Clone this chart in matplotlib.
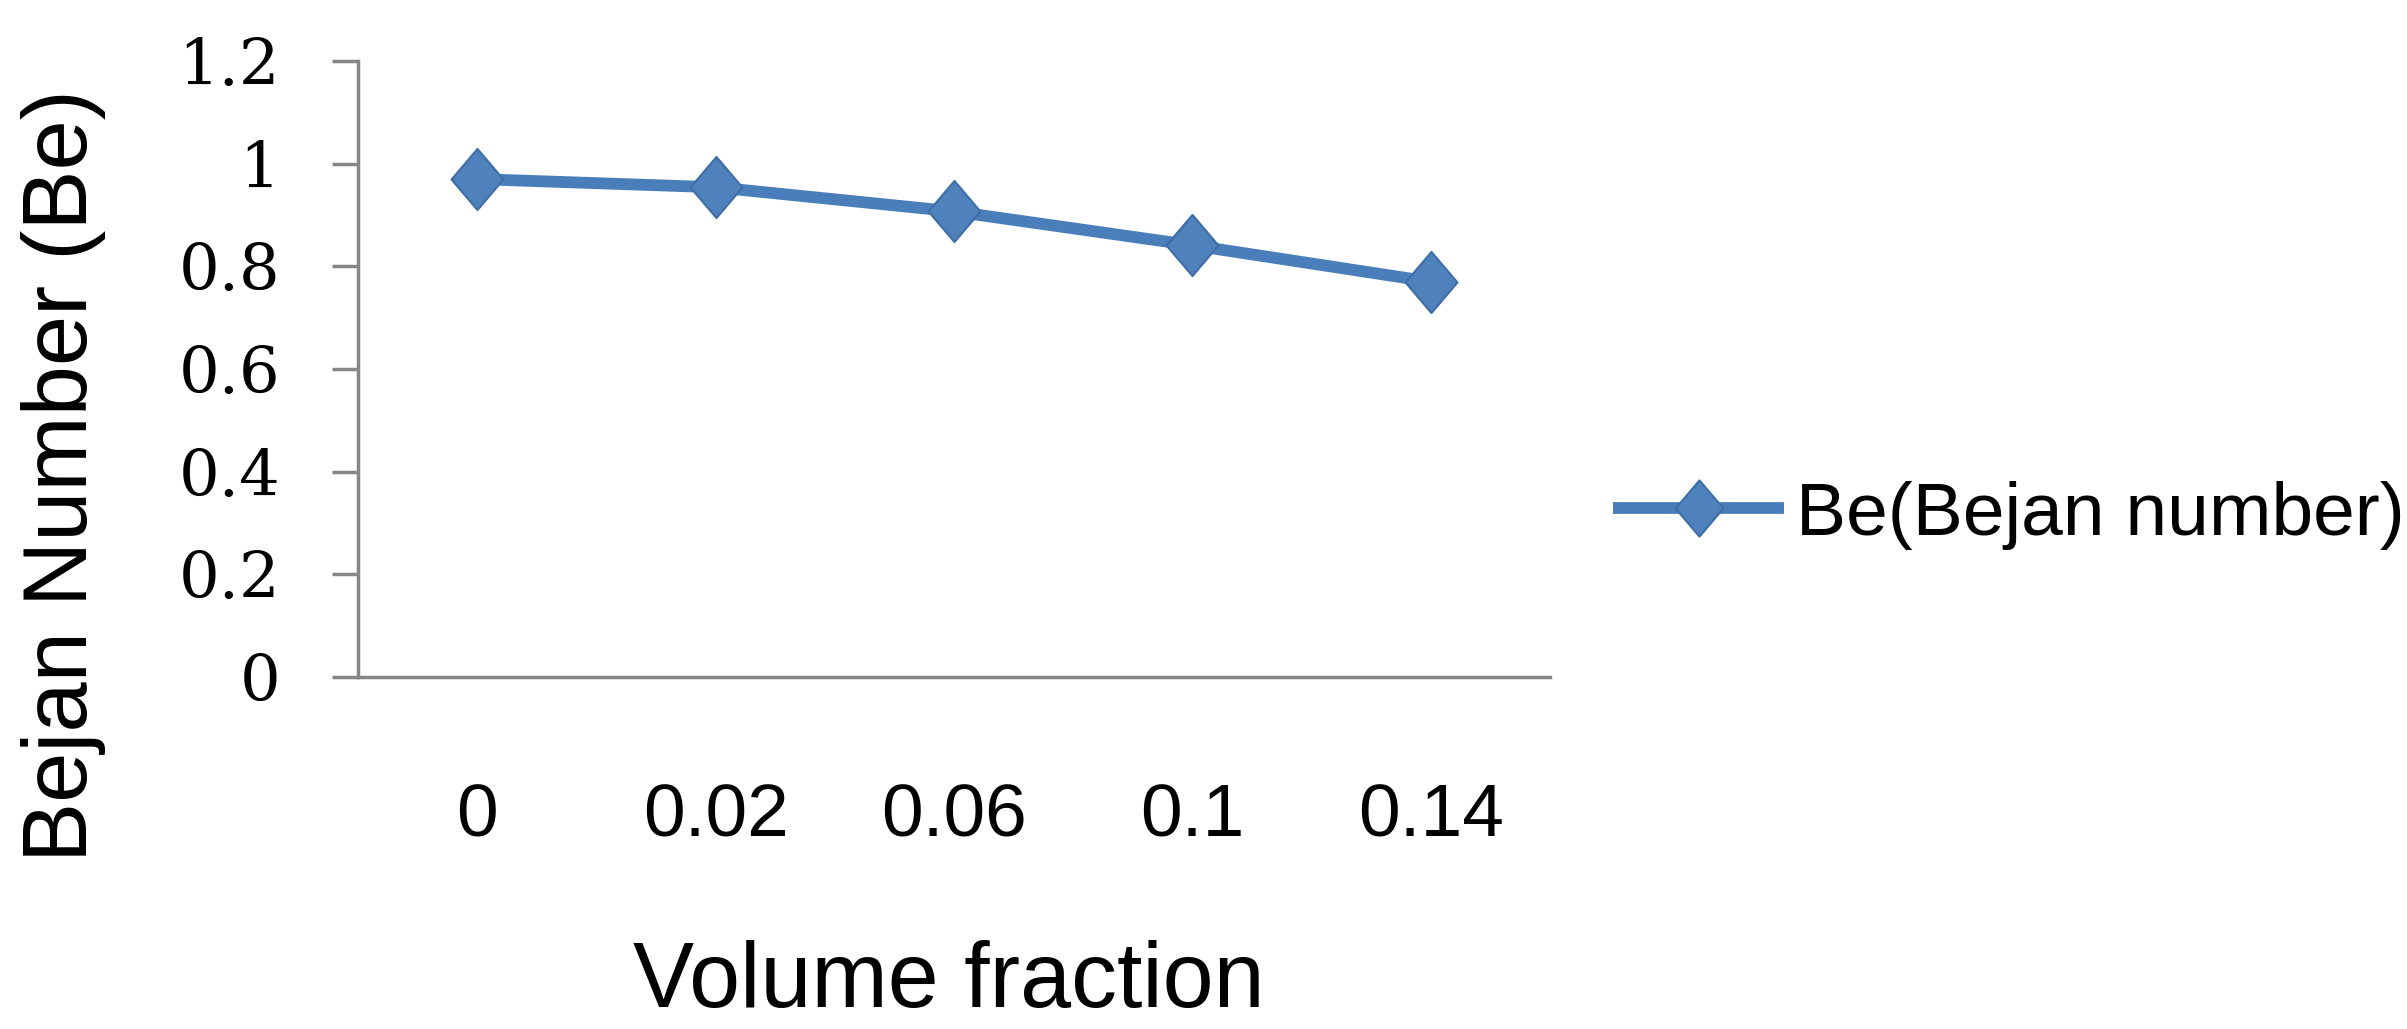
import numpy as np
import matplotlib
matplotlib.use('Agg')
import matplotlib.pyplot as plt
from matplotlib.path import Path

# data
fractions=['0','0.02','0.06','0.1','0.14']
bejan=[0.970,0.954,0.907,0.841,0.770]
yticks=[0,0.2,0.4,0.6,0.8,1.0,1.2]

sans='Liberation Sans'
serif='DejaVu Serif'
linecol='#4A7EBB'
facecol='#4F81BD'
edgecol='#3F6DA6'
axcol='#868686'

# slightly tall diamond, like the excel marker
diamond=Path([(0,1),(0.85,0),(0,-1),(-0.85,0),(0,1)],
             [Path.MOVETO,Path.LINETO,Path.LINETO,Path.LINETO,Path.CLOSEPOLY])

fig=plt.figure(figsize=(24.07,10.29),dpi=100)
ax=fig.add_axes([0.14873,0.34208,0.49522,0.59864])

x=np.arange(len(fractions))
ax.plot(x,bejan,color=linecol,lw=8.5,marker=diamond,ms=44,
        markerfacecolor=facecol,markeredgecolor=edgecol,markeredgewidth=1.5,
        label='Be(Bejan number)',solid_capstyle='butt')

ax.set_xlim(-0.5,len(fractions)-0.5)
ax.set_ylim(0,1.2)
ax.set_xticks(x)
ax.set_xticklabels(fractions,fontfamily=sans,fontsize=54)
ax.set_yticks(yticks)
ax.set_yticklabels(['%g'%v for v in yticks],fontfamily=serif,fontsize=46)

ax.tick_params(axis='x',length=0,pad=76)
ax.tick_params(axis='y',direction='out',length=19,width=2.5,color=axcol,pad=37)

for s in ['top','right']:
  ax.spines[s].set_visible(False)
for s in ['left','bottom']:
  ax.spines[s].set_color(axcol)
  ax.spines[s].set_linewidth(2.5)

fig.text(0.0265,0.5374,'Bejan Number (Be)',rotation=90,ha='center',va='center',
         fontfamily=sans,fontsize=65)
fig.text(0.3943,0.003,'Volume fraction',ha='center',va='bottom',
         fontfamily=sans,fontsize=66)

leg=ax.legend(loc='center left',bbox_to_anchor=(1613/2407,1-515/1029),
              bbox_transform=fig.transFigure,frameon=False,borderpad=0,
              borderaxespad=0,handlelength=2.28,handletextpad=0.16,
              markerscale=0.92,prop={'family':sans,'size':54})

fig.savefig('out.png',dpi=100,facecolor='white')
